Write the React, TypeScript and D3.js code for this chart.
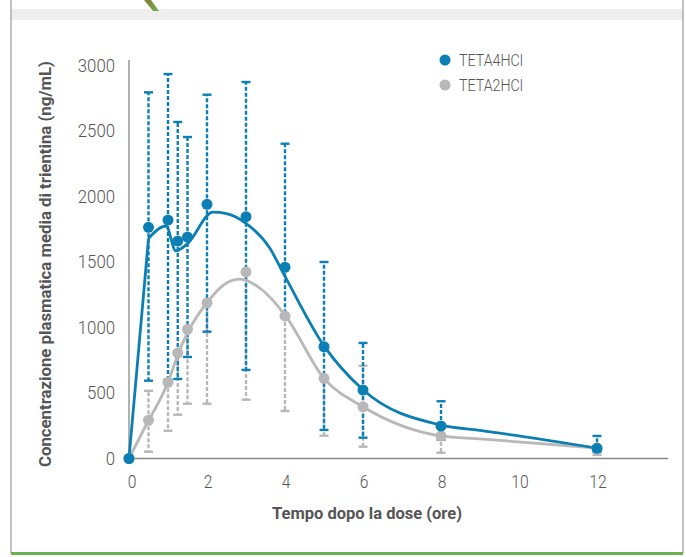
import React from "react";
import * as d3 from "d3";

// ---- data ----
const times = [0, 0.5, 1, 1.25, 1.5, 2, 3, 4, 5, 6, 8, 12];
const teta4Mean = [0, 1765, 1820, 1660, 1690, 1940, 1846, 1460, 853, 523, 248, 78];
const teta4Upper = [null, 2795, 2935, 2569, 2454, 2777, 2874, 2403, 1500, 882, 437, 172];
const teta4Lower = [null, 594, 600, 607, 775, 968, 676, 1088, 218, 159, 145, 50];
const teta2Mean = [0, 292, 582, 805, 986, 1187, 1424, 1088, 612, 395, 172, 80];
const teta2Upper = [null, 517, null, null, null, null, null, null, null, 708, null, null];
const teta2Lower = [null, 52, 212, 334, 418, 418, 449, 363, 174, 90, 44, 27];

// fitted (smoothed) curves
const teta4FitT = [0, 0.5, 0.95, 1.2, 1.5, 2.15, 2.5, 3, 3.6, 4, 5, 6, 8, 9, 12];
const teta4FitV = [0, 1680, 1775, 1585, 1640, 1880, 1870, 1795, 1610, 1390, 860, 525, 255, 215, 80];
const teta2FitT = [0, 0.5, 1, 1.25, 1.5, 2, 2.5, 2.85, 3.4, 4, 5, 6, 8, 9, 12];
const teta2FitV = [0, 292, 582, 790, 960, 1190, 1340, 1370, 1290, 1095, 612, 395, 172, 150, 80];

const xTicks = [0, 2, 4, 6, 8, 10, 12];
const yTicks = [0, 500, 1000, 1500, 2000, 2500, 3000];
const seriesNames = ["TETA4HCl", "TETA2HCl"];

const BLUE = "#0b7fb4";
const GRAY = "#b8b8b8";
const TEXT = "#555555";

export default function App() {
  const W = 686, H = 557;
  const x = d3.scaleLinear().domain([0, 13.82]).range([129, 668]);
  const y = d3.scaleLinear().domain([0, 3000]).range([458.5, 65.5]);

  const smooth = d3
    .line<[number, number]>()
    .x((d) => x(d[0]))
    .y((d) => y(d[1]))
    .curve(d3.curveMonotoneX);
  const straight = d3
    .line<[number, number]>()
    .x((d) => x(d[0]))
    .y((d) => y(d[1]));

  const fit4 = teta4FitT.map((t, i) => [t, teta4FitV[i]] as [number, number]);
  const fit2 = teta2FitT.map((t, i) => [t, teta2FitV[i]] as [number, number]);
  // first segment (absorption) is drawn straight, the rest smoothed
  const pathFor = (pts: [number, number][]) =>
    (straight(pts.slice(0, 2)) || "") + (smooth(pts.slice(1)) || "");

  const cap = 4.5;
  const errBars = (
    mean: number[],
    up: (number | null)[],
    lo: (number | null)[],
    color: string,
    key: string
  ) =>
    times.map((t, i) => {
      const els: React.ReactNode[] = [];
      const cx = x(t);
      if (up[i] != null) {
        els.push(
          <line key={key + "u" + i} x1={cx} x2={cx} y1={y(mean[i])} y2={y(up[i] as number)}
            stroke={color} strokeWidth={2.4} strokeDasharray="4,2" />,
          <line key={key + "uc" + i} x1={cx - cap} x2={cx + cap} y1={y(up[i] as number)} y2={y(up[i] as number)}
            stroke={color} strokeWidth={2.4} />
        );
      }
      if (lo[i] != null) {
        els.push(
          <line key={key + "l" + i} x1={cx} x2={cx} y1={y(mean[i])} y2={y(lo[i] as number)}
            stroke={color} strokeWidth={2.4} strokeDasharray="4,2" />,
          <line key={key + "lc" + i} x1={cx - cap} x2={cx + cap} y1={y(lo[i] as number)} y2={y(lo[i] as number)}
            stroke={color} strokeWidth={2.4} />
        );
      }
      return els;
    });

  return (
    <svg width={W} height={H} viewBox={`0 0 ${W} ${H}`}
      style={{ position: "absolute", left: 0, top: 0, background: "#fff" }}>
      <defs>
        <linearGradient id="logo" x1="0" y1="0" x2="1" y2="1">
          <stop offset="0" stopColor="#8a7a3a" />
          <stop offset="1" stopColor="#6fb04a" />
        </linearGradient>
      </defs>
      {/* frame */}
      <rect x={11} y={9} width={672} height={11} fill="#eeeeee" />
      <polygon points="144,0 151,0 159,11 153,11" fill="url(#logo)" />
      <line x1={11} x2={11} y1={0} y2={553} stroke="#9a9a9a" strokeWidth={1.2} />
      <line x1={683} x2={683} y1={0} y2={553} stroke="#9a9a9a" strokeWidth={1.2} />
      <line x1={11} x2={683} y1={553.5} y2={553.5} stroke="#6ab04c" strokeWidth={3} />

      {/* axes */}
      <line x1={129} x2={129} y1={60} y2={y(0)} stroke="#999" strokeWidth={1.5} />
      <line x1={129} x2={668} y1={y(0)} y2={y(0)} stroke="#888" strokeWidth={1.5} />
      {yTicks.map((v) => (
        <text key={"y" + v} x={115} y={y(v)} dy="0.36em" textAnchor="end"
          fontFamily="Roboto" fontWeight={300} fontSize={18} fill={TEXT}
          textLength={String(v).length * 9.3} lengthAdjust="spacingAndGlyphs">{v}</text>
      ))}
      {xTicks.map((v) => (
        <text key={"x" + v} x={x(v) + (v === 0 ? 3 : 1)} y={482} dy="0.36em" textAnchor="middle"
          fontFamily="Roboto" fontWeight={300} fontSize={18} fill={TEXT}
          textLength={String(v).length * 8.7} lengthAdjust="spacingAndGlyphs">{v}</text>
      ))}
      <text x={367} y={513} dy="0.36em" textAnchor="middle" fontFamily="Roboto" fontWeight={700}
        fontSize={17} fill={TEXT} textLength={190} lengthAdjust="spacingAndGlyphs">
        Tempo dopo la dose (ore)
      </text>
      <text transform="translate(45,264) rotate(-90)" dy="0.36em" textAnchor="middle" fontFamily="Roboto"
        fontWeight={700} fontSize={17} fill={TEXT} textLength={406} lengthAdjust="spacingAndGlyphs">
        Concentrazione plasmatica media di trientina (ng/mL)
      </text>

      {/* error bars */}
      {errBars(teta2Mean, teta2Upper, teta2Lower, GRAY, "g")}
      {errBars(teta4Mean, teta4Upper, teta4Lower, BLUE, "b")}

      {/* curves */}
      <path d={pathFor(fit2)} fill="none" stroke={GRAY} strokeWidth={2.8} strokeLinejoin="round" />
      <path d={pathFor(fit4)} fill="none" stroke={BLUE} strokeWidth={2.8} strokeLinejoin="round" />

      {/* dots */}
      {times.map((t, i) => (
        <circle key={"gd" + i} cx={x(t)} cy={y(teta2Mean[i])} r={5.5} fill={GRAY} />
      ))}
      {times.map((t, i) => (
        <circle key={"bd" + i} cx={x(t)} cy={y(teta4Mean[i])} r={5.5} fill={BLUE} />
      ))}

      {/* legend */}
      {seriesNames.map((n, i) => (
        <g key={n}>
          <circle cx={445} cy={60 + i * 25} r={5.5} fill={i === 0 ? BLUE : GRAY} />
          <text x={459} y={60 + i * 25} dy="0.36em" fontFamily="Roboto" fontWeight={300} fontSize={17}
            fill={TEXT} textLength={64} lengthAdjust="spacingAndGlyphs">{n}</text>
        </g>
      ))}
    </svg>
  );
}
